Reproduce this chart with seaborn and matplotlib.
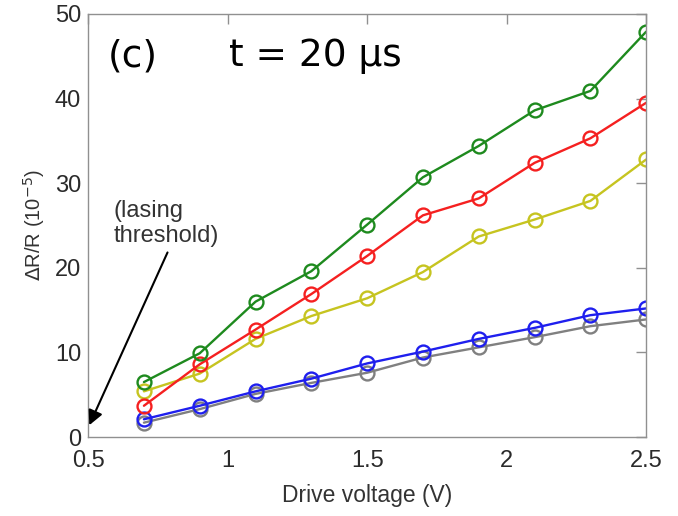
import pandas as pd
import seaborn as sns
import matplotlib.pyplot as plt

# Drive voltage points
voltage = [0.7, 0.9, 1.1, 1.3, 1.5, 1.7, 1.9, 2.1, 2.3, 2.5]

# dR/R (1e-5) per trace
green = [6.5, 9.9, 16.0, 19.6, 25.1, 30.7, 34.4, 38.6, 40.9, 47.9]
red = [3.7, 8.6, 12.7, 16.9, 21.4, 26.2, 28.2, 32.4, 35.3, 39.5]
yellow = [5.4, 7.5, 11.6, 14.3, 16.4, 19.5, 23.7, 25.7, 27.9, 32.8]
blue = [2.1, 3.7, 5.4, 6.9, 8.7, 10.1, 11.6, 12.9, 14.4, 15.2]
gray = [1.7, 3.3, 5.1, 6.4, 7.6, 9.4, 10.6, 11.8, 13.1, 13.9]

series = {"gray": gray, "blue": blue, "yellow": yellow, "red": red, "green": green}
colors = {"gray": "#808080", "blue": "#1f1fee", "yellow": "#c6c420",
          "red": "#f52020", "green": "#1e8a1e"}

rows = []
for name, vals in series.items():
    for v, r in zip(voltage, vals):
        rows.append({"trace": name, "voltage": v, "dR": r})
df = pd.DataFrame(rows)

sns.set_style("white")
plt.rcParams['font.family'] = ['Liberation Sans', 'DejaVu Sans']

fig = plt.figure(figsize=(6.78, 5.16), dpi=100)
ax = fig.add_axes([0.130, 0.153, 0.823, 0.820])

for name in series:
    sns.lineplot(data=df[df.trace == name], x="voltage", y="dR", ax=ax,
                 color=colors[name], lw=1.7, marker="o", markersize=10,
                 mfc="none", mec=colors[name], mew=1.7, legend=False)

ax.set_xlim(0.5, 2.5)
ax.set_ylim(0, 50)
ax.set_xticks([0.5, 1, 1.5, 2, 2.5])
ax.set_xticklabels(["0.5", "1", "1.5", "2", "2.5"])
ax.set_yticks([0, 10, 20, 30, 40, 50])
ax.tick_params(direction="in", length=7, width=1, color="#909090",
               labelsize=17, labelcolor="#2a2a2a", top=True, right=True)
ax.tick_params(axis="x", pad=9)
ax.tick_params(axis="y", pad=5)
for s in ax.spines.values():
    s.set_color("#909090")
    s.set_linewidth(1)

ax.set_xlabel("Drive voltage (V)", fontsize=16.5, color="#333333")
ax.xaxis.label.set_va("center")
ax.xaxis.set_label_coords(0.5, -0.137)
ax.set_ylabel(r"$\Delta$R/R (10$^{-5}$)", fontsize=14.5, color="#333333")
ax.yaxis.label.set_va("center")
ax.yaxis.set_label_coords(-0.097, 0.5)

ax.text(0.572, 43.8, "(c)", fontsize=27, family="DejaVu Sans",
        color="black", va="baseline")
ax.text(1.005, 43.8, "t = 20 \u00b5s", fontsize=27, family="DejaVu Sans",
        color="black", va="baseline")

ax.annotate("(lasing\nthreshold)", xy=(0.504, 1.4), xytext=(0.59, 28.0),
            fontsize=17, color="#333333", ha="left", va="top",
            linespacing=1.15,
            arrowprops=dict(arrowstyle="-|>", color="black", lw=1.5,
                            mutation_scale=22, shrinkA=2, shrinkB=0,
                            relpos=(0.54, 0.0)))

fig.savefig("out.png", dpi=100)
